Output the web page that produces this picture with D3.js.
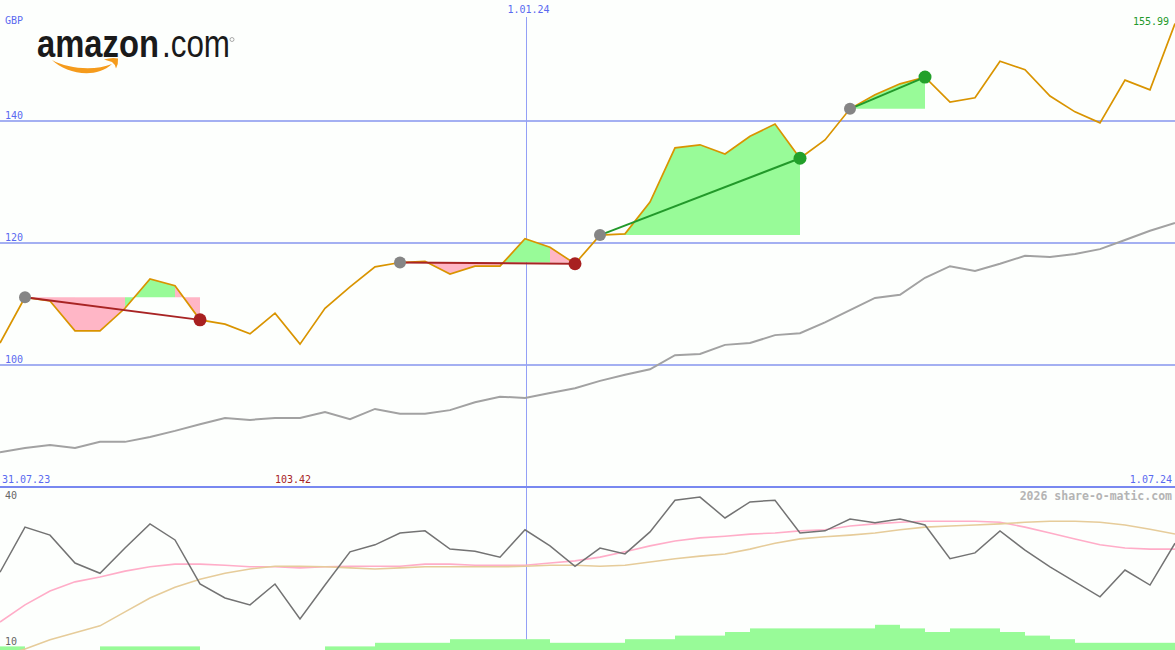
<!DOCTYPE html>
<html>
<head>
<meta charset="utf-8">
<script src="https://cdn.jsdelivr.net/npm/d3@7"></script>
<style>
  body { margin: 0; background: #fdfffd; }
  svg { display: block; }
  text { font-family: "DejaVu Sans Mono", monospace; font-size: 10px; }
</style>
</head>
<body>
<svg id="chart"></svg>
<script>
// Set up the SVG container dimensions
const width = 1175;
const height = 650;
const mainBottom = 487;

// Weekly dates (Mondays), 7 Aug 2023 .. 1 Jul 2024
const dates = d3.timeMonday.range(new Date(2023, 7, 7), new Date(2024, 6, 2));

// Share price, GBP
const price = [103.6, 111.1, 110.5, 105.6, 105.6, 109.3, 114.1, 113.0, 107.4, 106.7,
  105.1, 108.5, 103.42, 109.3, 112.8, 116.1, 116.8, 117.0, 114.9, 116.2,
  116.2, 120.7, 119.3, 116.6, 121.3, 121.5, 126.7, 135.6, 136.1, 134.6,
  137.5, 139.5, 133.9, 136.9, 142.0, 144.3, 146.1, 147.2, 143.1, 143.8,
  149.8, 148.4, 144.1, 141.5, 139.7, 146.7, 145.1, 155.99];

// Comparison line (grey)
const bench = [85.7, 86.4, 86.9, 86.4, 87.4, 87.4, 88.2, 89.2, 90.3, 91.3,
  91.0, 91.3, 91.3, 92.3, 91.1, 92.8, 92.0, 92.0, 92.6, 93.9,
  94.8, 94.6, 95.4, 96.2, 97.4, 98.4, 99.3, 101.6, 101.8, 103.3,
  103.6, 104.9, 105.2, 107.0, 109.0, 111.0, 111.5, 114.3, 116.2, 115.4,
  116.6, 117.9, 117.7, 118.2, 119.0, 120.5, 122.0, 123.3];

// Lower panel indicator and its two averages
const momentum = [24.5, 32.9, 31.4, 26.2, 24.3, 29.0, 33.5, 30.5, 22.3, 19.7,
  18.4, 22.3, 15.8, 22.1, 28.3, 29.6, 31.8, 32.2, 28.8, 28.4,
  27.3, 32.4, 29.4, 25.6, 29.0, 27.9, 32.0, 37.9, 38.5, 34.6,
  37.6, 37.9, 31.8, 32.2, 34.4, 33.7, 34.4, 33.3, 27.0, 28.1,
  32.2, 28.6, 25.5, 22.7, 19.9, 24.9, 22.1, 29.9];
const pinkAvg = [15.2, 18.4, 21.0, 22.7, 23.6, 24.7, 25.5, 26.0, 26.0, 25.8,
  25.5, 25.5, 25.3, 25.5, 25.6, 25.6, 25.6, 26.0, 26.0, 25.8,
  25.8, 25.8, 26.2, 26.6, 27.3, 28.3, 29.4, 30.3, 30.9, 31.2,
  31.6, 31.8, 32.2, 32.4, 33.1, 33.5, 33.8, 34.0, 34.0, 34.0,
  33.8, 32.9, 31.8, 30.7, 29.6, 29.0, 28.8, 28.8];
const tanAvg = [8.7, 10.2, 11.9, 13.2, 14.5, 17.1, 19.7, 21.7, 23.2, 24.3,
  25.1, 25.6, 25.6, 25.5, 25.3, 25.1, 25.3, 25.5, 25.5, 25.5,
  25.5, 25.6, 25.8, 25.8, 25.6, 25.8, 26.4, 27.0, 27.5, 27.9,
  28.8, 29.9, 30.7, 31.1, 31.4, 31.8, 32.4, 32.9, 33.1, 33.3,
  33.5, 33.8, 34.0, 34.0, 33.8, 33.3, 32.5, 31.6];

// Weekly step bars at the bottom (one per interval)
const barLevel = [1, 0, 0, 0, 1, 1, 1, 1, 0, 0, 0, 0, 0, 1, 1, 2, 2, 2, 3, 3,
  3, 3, 2, 2, 2, 3, 3, 4, 4, 5, 6, 6, 6, 6, 6, 7, 6, 5, 6, 6,
  5, 4, 3, 2, 2, 2, 2];

// Trades: index of entry and exit week
const trades = [
  { entry: 1, exit: 8 },
  { entry: 16, exit: 23 },
  { entry: 24, exit: 32 },
  { entry: 34, exit: 37 }
];

const gridValues = [100, 120, 140];
const lowerTicks = [40, 10];
const midDate = new Date(2024, 0, 1);
const fmtDate = d3.timeFormat("%-d.%m.%y");

const svg = d3.select("#chart")
    .attr("width", width)
    .attr("height", height);

// Scales
const x = d3.scaleTime()
    .domain([dates[0], dates[dates.length - 1]])
    .range([0, width]);

const y = d3.scaleLinear()
    .domain([80, 159.84])
    .range([mainBottom, 0]);

const yLow = d3.scaleLinear()
    .domain([10, 40])
    .range([650, 489]);

const yBar = d3.scaleLinear()
    .domain([0, 10])
    .range([650, 614]);

svg.append("clipPath").attr("id", "lowClip")
  .append("rect")
    .attr("x", 0).attr("y", mainBottom + 1)
    .attr("width", width).attr("height", height - mainBottom);

// Grid lines
svg.selectAll(".grid")
  .data(gridValues)
  .enter().append("line")
    .attr("x1", 0).attr("x2", width)
    .attr("y1", d => y(d)).attr("y2", d => y(d))
    .attr("stroke", "#a4b0f2")
    .attr("stroke-width", 2);

const midX = Math.round(x(midDate)) + 1.5;
svg.append("line")
    .attr("x1", midX).attr("x2", midX)
    .attr("y1", 17).attr("y2", height)
    .attr("stroke", "#93a0f6")
    .attr("stroke-width", 1);

svg.append("line")
    .attr("x1", 0).attr("x2", width)
    .attr("y1", mainBottom).attr("y2", mainBottom)
    .attr("stroke", "#7888f0")
    .attr("stroke-width", 2);

// Trade fills between price and entry level
trades.forEach(t => {
  const base = price[t.entry];
  for (let i = t.entry; i < t.exit; i++) {
    const pts = [
      [x(dates[i]), y(base)],
      [x(dates[i]), y(price[i])],
      [x(dates[i + 1]), y(price[i + 1])],
      [x(dates[i + 1]), y(base)]
    ];
    svg.append("path")
        .attr("d", "M" + pts.join("L") + "Z")
        .attr("fill", price[i + 1] >= base ? "#98fb98" : "#ffb6c6");
  }
});

// Lower panel bars
const low = svg.append("g").attr("clip-path", "url(#lowClip)");
low.selectAll(".bar")
  .data(barLevel.map((v, i) => ({ v, i })).filter(d => d.v > 0))
  .enter().append("rect")
    .attr("x", d => x(dates[d.i]))
    .attr("width", d => x(dates[d.i + 1]) - x(dates[d.i]))
    .attr("y", d => yBar(d.v))
    .attr("height", d => yBar(0) - yBar(d.v))
    .attr("fill", "#98fb98");

const lineMain = vals => d3.line().x((d, i) => x(dates[i])).y(d => y(d))(vals);
const lineLow = vals => d3.line().x((d, i) => x(dates[i])).y(d => yLow(d))(vals);

low.append("path").attr("d", lineLow(pinkAvg))
    .attr("fill", "none").attr("stroke", "#ffadc8").attr("stroke-width", 1.6);
low.append("path").attr("d", lineLow(tanAvg))
    .attr("fill", "none").attr("stroke", "#e6cc9a").attr("stroke-width", 1.6);
low.append("path").attr("d", lineLow(momentum))
    .attr("fill", "none").attr("stroke", "#737373").attr("stroke-width", 1.5);

// Main panel lines
svg.append("path").attr("d", lineMain(bench))
    .attr("fill", "none").attr("stroke", "#a2a2a2").attr("stroke-width", 2);
svg.append("path").attr("d", lineMain(price))
    .attr("fill", "none").attr("stroke", "#d99400").attr("stroke-width", 1.7);

// Trade lines and markers
trades.forEach(t => {
  const win = price[t.exit] > price[t.entry];
  const col = win ? "#22992a" : "#a82424";
  svg.append("line")
      .attr("x1", x(dates[t.entry])).attr("y1", y(price[t.entry]))
      .attr("x2", x(dates[t.exit])).attr("y2", y(price[t.exit]))
      .attr("stroke", col).attr("stroke-width", 2);
  svg.append("circle")
      .attr("cx", x(dates[t.entry])).attr("cy", y(price[t.entry]))
      .attr("r", 6).attr("fill", "#858585");
  svg.append("circle")
      .attr("cx", x(dates[t.exit])).attr("cy", y(price[t.exit]))
      .attr("r", 6.5).attr("fill", win ? "#22a02a" : "#a82020");
});

// Labels
const blue = "#5a6af0";
svg.append("text").attr("x", 5).attr("y", 24).attr("fill", blue).text("GBP");
svg.selectAll(".gl")
  .data(gridValues)
  .enter().append("text")
    .attr("x", 5).attr("y", d => y(d) - 2)
    .attr("fill", blue)
    .text(d => d);

svg.append("text").attr("x", midX + 2).attr("y", 13)
    .attr("text-anchor", "middle").attr("fill", blue).text(fmtDate(midDate));
svg.append("text").attr("x", 2).attr("y", 483).attr("fill", blue).text("31.07.23");
svg.append("text").attr("x", width - 3).attr("y", 483)
    .attr("text-anchor", "end").attr("fill", blue).text(fmtDate(dates[dates.length - 1]));

const minIdx = d3.minIndex(price);
svg.append("text").attr("x", x(dates[minIdx]) - 25).attr("y", 483)
    .attr("fill", "#a82424").text(d3.format(".2f")(price[minIdx]));
svg.append("text").attr("x", width - 6).attr("y", 25)
    .attr("text-anchor", "end").attr("fill", "#22992a")
    .text(d3.format(".2f")(price[price.length - 1]));

svg.append("text").attr("x", width - 3).attr("y", 500)
    .attr("text-anchor", "end").attr("fill", "#b4b4b4")
    .style("font-size", "11.5px").style("font-weight", "bold")
    .text("2026 share-o-matic.com");

svg.selectAll(".ll")
  .data(lowerTicks)
  .enter().append("text")
    .attr("x", 5).attr("y", d => d === 40 ? 499 : 645)
    .attr("fill", "#666")
    .text(d => d);

// Amazon logo (two words, each squeezed horizontally)
const logoFont = "'Liberation Sans', Arial, sans-serif";
const logo = svg.append("g");
logo.append("text")
    .attr("transform", "translate(37,57) scale(0.862,1)")
    .style("font-family", logoFont).style("font-size", "38px")
    .style("font-weight", "bold")
    .attr("fill", "#1a1a1a")
    .text("amazon");
logo.append("text")
    .attr("transform", "translate(162,57) scale(0.826,1)")
    .style("font-family", logoFont).style("font-size", "38px")
    .attr("fill", "#1a1a1a")
    .text(".com");
logo.append("circle").attr("cx", 232).attr("cy", 39.5).attr("r", 2)
    .attr("fill", "none").attr("stroke", "#888").attr("stroke-width", 0.7);
logo.append("path")
    .attr("d", "M52,60 C65,73 95,80 112,64 C95,71 68,69 52,60 Z")
    .attr("fill", "#f59b1c");
logo.append("path")
    .attr("d", "M104,59.5 Q112,57 118,58.5 Q118.5,64 116,68.5 Q115,64 112,62 Q108,60.5 104,59.5 Z")
    .attr("fill", "#f59b1c");
</script>
</body>
</html>
